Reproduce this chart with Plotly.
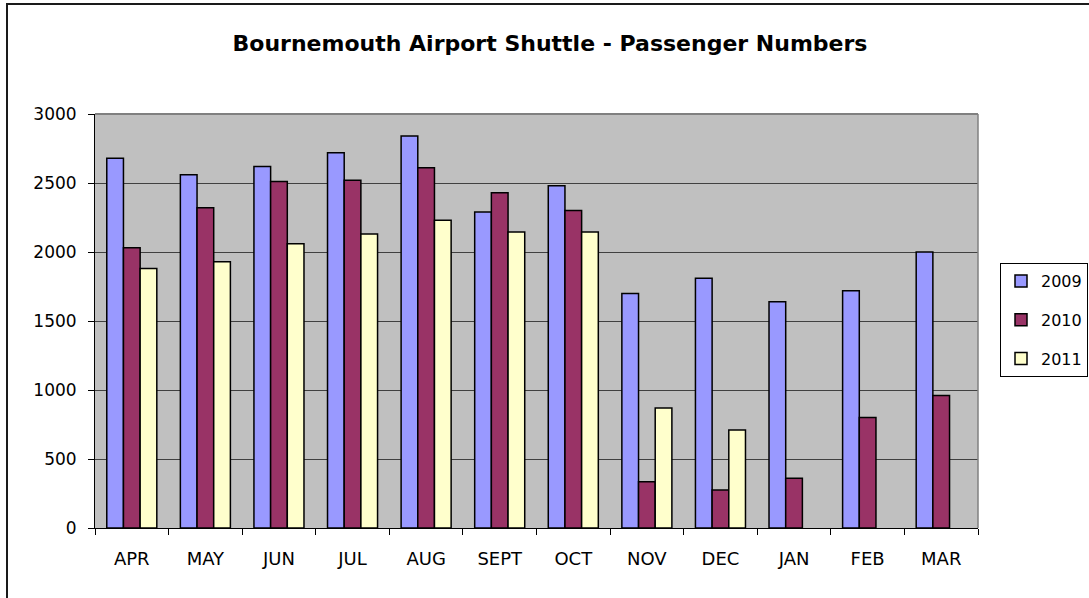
import plotly.graph_objects as go

months = ["APR", "MAY", "JUN", "JUL", "AUG", "SEPT", "OCT", "NOV", "DEC", "JAN", "FEB", "MAR"]
y2009 = [2680, 2560, 2620, 2720, 2840, 2290, 2480, 1700, 1810, 1640, 1720, 2000]
y2010 = [2030, 2320, 2510, 2520, 2610, 2430, 2300, 335, 275, 360, 800, 960]
y2011 = [1880, 1930, 2060, 2130, 2230, 2145, 2145, 870, 710, None, None, None]
series_names = ["2009", "2010", "2011"]
series_colors = ["#9999FF", "#993366", "#FFFFCC"]
y_ticks = [0, 500, 1000, 1500, 2000, 2500, 3000]

W, H = 1089, 598
L, R, T, B = 95, 111, 114, 70
pw, ph = W - L - R, H - T - B

def px_x(p):
    return (p - L) / pw

def px_y(p):
    return (H - B - p) / ph

fig = go.Figure()
for i, (name, vals, col) in enumerate(zip(series_names, [y2009, y2010, y2011], series_colors)):
    fig.add_trace(go.Bar(
        x=months, y=vals, name=name, legendgroup=name,
        marker=dict(color=col, line=dict(color="black", width=1.5)),
    ))

font_family = "DejaVu Sans, Liberation Sans, Arial, sans-serif"

fig.update_layout(
    width=W, height=H,
    margin=dict(l=L, r=R, t=T, b=B, autoexpand=False),
    paper_bgcolor="white",
    plot_bgcolor="#C0C0C0",
    barmode="group",
    bargap=0.32,
    bargroupgap=0,
    font=dict(family=font_family, size=17, color="black"),
    title=dict(
        text="<b>Bournemouth Airport Shuttle - Passenger Numbers</b>",
        x=550 / W, xanchor="center", xref="container",
        y=1 - 43 / H, yanchor="middle", yref="container",
        font=dict(family=font_family, size=22, color="black"),
    ),
    xaxis=dict(
        showline=True, linecolor="black", linewidth=1,
        ticks="outside", tickson="boundaries", ticklen=6, tickcolor="black",
        showgrid=False, tickfont=dict(size=18), ticklabelstandoff=14,
    ),
    yaxis=dict(
        range=[0, 3000], tickvals=y_ticks,
        showline=True, linecolor="black", linewidth=1,
        ticks="outside", ticklen=6, tickcolor="black",
        showgrid=True, gridcolor="#404040", gridwidth=1,
        zeroline=False, tickfont=dict(size=17), ticklabelstandoff=8,
    ),
    legend=dict(
        x=px_x(1000), y=px_y(263), xanchor="left", yanchor="top",
        bgcolor="white", bordercolor="black", borderwidth=1,
        font=dict(size=16), traceorder="grouped", tracegroupgap=15,
        itemwidth=30,
    ),
    shapes=[
        dict(type="line", xref="paper", yref="paper", x0=1, x1=1, y0=0, y1=1,
             line=dict(color="#808080", width=1.5)),
        dict(type="line", xref="paper", yref="paper", x0=0, x1=1, y0=1, y1=1,
             line=dict(color="#808080", width=2)),
        dict(type="rect", xref="paper", yref="paper",
             x0=px_x(7), x1=px_x(1120), y0=px_y(630), y1=px_y(4),
             line=dict(color="#1a1a1a", width=2), layer="below"),
    ],
)

fig.write_html("out.html")
